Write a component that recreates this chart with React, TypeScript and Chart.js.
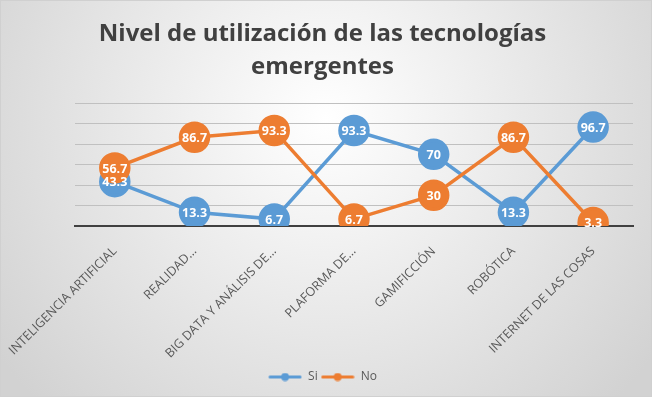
import React, { useEffect, useRef } from "react";
import { Chart, registerables } from "chart.js";

Chart.register(...registerables);

const titleLines = ["Nivel de utilización de las tecnologías", "emergentes"];
const categories = [
  "INTELIGENCIA ARTIFICIAL",
  "REALIDAD…",
  "BIG DATA Y ANÁLISIS DE…",
  "PLAFORMA DE…",
  "GAMIFICCIÓN",
  "ROBÓTICA",
  "INTERNET DE LAS COSAS",
];
const seriesNames = ["Si", "No"];
const siValues = [43.3, 13.3, 6.7, 93.3, 70, 13.3, 96.7];
const noValues = [56.7, 86.7, 93.3, 6.7, 30, 86.7, 3.3];
const yMin = 0;
const yMax = 120;
const yStep = 20;

const BLUE = "#5B9BD5";
const ORANGE = "#ED7D31";

function legendIcon(color: string): HTMLCanvasElement {
  const c = document.createElement("canvas");
  c.width = 34;
  c.height = 9;
  const ctx = c.getContext("2d")!;
  ctx.strokeStyle = color;
  ctx.lineWidth = 3;
  ctx.lineCap = "round";
  ctx.beginPath();
  ctx.moveTo(2, 4.5);
  ctx.lineTo(32, 4.5);
  ctx.stroke();
  ctx.fillStyle = color;
  ctx.beginPath();
  ctx.arc(17, 4.5, 4, 0, Math.PI * 2);
  ctx.fill();
  return c;
}

const backgroundPlugin = {
  id: "bgGradient",
  beforeDraw(chart: any) {
    const { ctx, width, height } = chart;
    ctx.save();
    const g = ctx.createRadialGradient(width * 0.5, height * 0.3, 0, width * 0.5, height * 0.3, width * 0.62);
    g.addColorStop(0, "#ffffff");
    g.addColorStop(1, "#d2d2d2");
    ctx.fillStyle = g;
    ctx.fillRect(0, 0, width, height);
    ctx.strokeStyle = "#d0d0d0";
    ctx.lineWidth = 1;
    ctx.strokeRect(0.5, 0.5, width - 1, height - 1);
    ctx.restore();
  },
};

const dataLabelPlugin = {
  id: "dataLabels",
  afterDatasetsDraw(chart: any) {
    const { ctx } = chart;
    ctx.save();
    ctx.font = "bold 12.5px 'Open Sans', sans-serif";
    ctx.fillStyle = "#ffffff";
    ctx.textAlign = "center";
    ctx.textBaseline = "middle";
    chart.data.datasets.forEach((ds: any, i: number) => {
      const meta = chart.getDatasetMeta(i);
      meta.data.forEach((pt: any, j: number) => {
        ctx.fillText(String(ds.data[j]), pt.x, pt.y + 1);
      });
    });
    ctx.restore();
  },
};

export default function App() {
  const ref = useRef<HTMLCanvasElement | null>(null);

  useEffect(() => {
    if (!ref.current) return;
    const icons = [legendIcon(BLUE), legendIcon(ORANGE)];
    const chart = new Chart(ref.current, {
      type: "line",
      data: {
        labels: categories,
        datasets: [
          {
            label: seriesNames[0],
            data: siValues,
            borderColor: BLUE,
            backgroundColor: BLUE,
            pointBackgroundColor: BLUE,
            pointBorderColor: BLUE,
            borderWidth: 3.5,
            pointRadius: 14,
            pointHoverRadius: 14,
            order: 1,
          } as any,
          {
            label: seriesNames[1],
            data: noValues,
            borderColor: ORANGE,
            backgroundColor: ORANGE,
            pointBackgroundColor: ORANGE,
            pointBorderColor: ORANGE,
            borderWidth: 3.5,
            pointRadius: 14,
            pointHoverRadius: 14,
            order: 0,
          } as any,
        ],
      },
      options: {
        animation: false,
        responsive: true,
        maintainAspectRatio: false,
        layout: { padding: { left: 12, right: 19, top: 0, bottom: 4 } },
        plugins: {
          title: {
            display: true,
            text: titleLines,
            color: "#404040",
            font: { family: "'Open Sans', sans-serif", size: 24, weight: "bold", lineHeight: 1.4 },
            padding: { top: 17, bottom: 19 },
          },
          legend: {
            position: "bottom",
            labels: {
              color: "#595959",
              font: { family: "'Open Sans', sans-serif", size: 12 },
              usePointStyle: true,
              pointStyleWidth: 34,
              padding: 3,
              sort: (a: any, b: any) => a.datasetIndex - b.datasetIndex,
              generateLabels: (chart: any) =>
                chart.data.datasets.map((ds: any, i: number) => ({
                  text: ds.label,
                  fillStyle: ds.borderColor,
                  strokeStyle: ds.borderColor,
                  lineWidth: 0,
                  pointStyle: icons[i],
                  datasetIndex: i,
                  hidden: false,
                  fontColor: "#595959",
                })),
            },
          },
          tooltip: { enabled: false },
        },
        scales: {
          x: {
            offset: true,
            grid: { display: false },
            border: { display: true, color: "#404040", width: 2 },
            afterFit: (scale: any) => {
              scale.height -= 3;
            },
            ticks: {
              color: "#595959",
              font: { family: "'Open Sans', sans-serif", size: 12.5 },
              maxRotation: 45,
              minRotation: 45,
              autoSkip: false,
              padding: 10,
            },
          },
          y: {
            min: yMin,
            max: yMax,
            ticks: { display: false, stepSize: yStep },
            grid: { color: "#c0c0c0", lineWidth: 1, drawTicks: false },
            border: { display: false },
          },
        },
      },
      plugins: [backgroundPlugin, dataLabelPlugin],
    } as any);
    return () => chart.destroy();
  }, []);

  return (
    <div style={{ position: "absolute", left: 0, top: 0, width: 652, height: 397 }}>
      <canvas ref={ref} />
    </div>
  );
}
